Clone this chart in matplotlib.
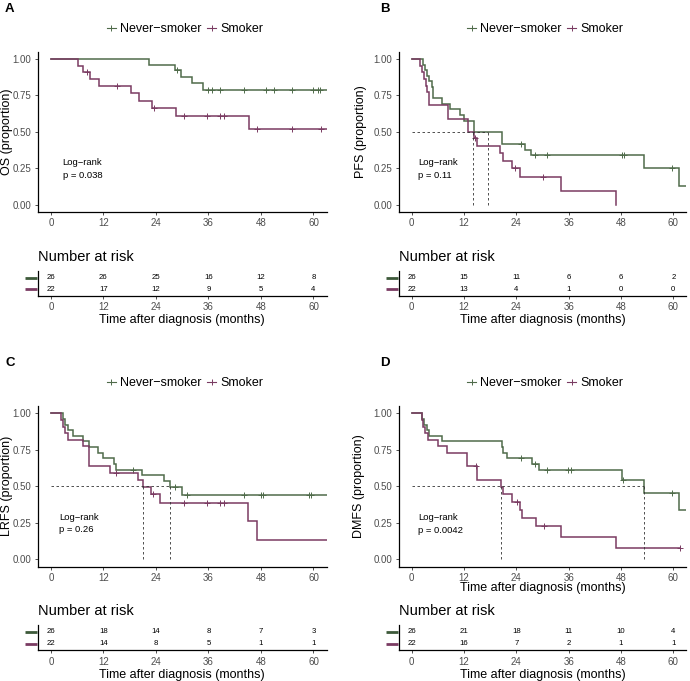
import matplotlib
matplotlib.use('Agg')
import matplotlib.pyplot as plt
from matplotlib.lines import Line2D
import matplotlib.transforms as mtrans

plt.rcParams['font.family'] = ['Liberation Sans', 'DejaVu Sans']

# ---------------- data ----------------
groups = ['Never\u2212smoker', 'Smoker']
colors = ['#4f6b4a', '#7a3b62']
bar_colors = ['#3d5a3a', '#7a3b62']
panel_letters = ['A', 'B', 'C', 'D']
ylabels = ['OS (proportion)', 'PFS (proportion)', 'LRFS (proportion)', 'DMFS (proportion)']
pvals = ['p = 0.038', 'p = 0.11', 'p = 0.26', 'p = 0.0042']
xticks = [0, 12, 24, 36, 48, 60]
yticks = [0.0, 0.25, 0.5, 0.75, 1.0]
ytick_labels = ['0.00', '0.25', '0.50', '0.75', '1.00']

# Panel A (OS)
a_never_t = [22.5, 28.3, 29.7, 32.2, 34.7]
a_never_s = [0.962, 0.923, 0.879, 0.835, 0.790]
a_never_c = [28.9, 36.0, 36.8, 38.7, 44.2, 49.2, 50.9, 55.2, 59.9, 61.1, 61.5]
a_never_end = 63
a_smok_t = [6.1, 7.4, 9.0, 11.1, 18.3, 20.2, 23.1, 28.5, 45.2]
a_smok_s = [0.955, 0.909, 0.861, 0.817, 0.769, 0.712, 0.663, 0.607, 0.520]
a_smok_c = [8.2, 15.2, 23.6, 30.3, 35.6, 38.7, 39.6, 47.2, 55.1, 61.8]
a_smok_end = 63
a_medians = []

# Panel B (PFS)
b_never_t = [2.7, 3.0, 3.4, 4.0, 4.6, 5.0, 7.0, 8.8, 11.0, 12.0, 14.4, 20.6, 26.0, 27.3, 53.3, 61.3]
b_never_s = [0.962, 0.923, 0.885, 0.846, 0.808, 0.731, 0.692, 0.654, 0.615, 0.577, 0.500, 0.420,
             0.378, 0.338, 0.254, 0.128]
b_never_c = [25.1, 28.3, 31.1, 48.2, 48.6, 59.6]
b_never_end = 63
b_smok_t = [1.9, 2.4, 2.8, 3.2, 3.5, 4.0, 8.4, 13.0, 14.4, 14.9, 20.3, 21.0, 22.9, 24.9, 34.2, 46.8]
b_smok_s = [0.955, 0.909, 0.864, 0.818, 0.773, 0.682, 0.591, 0.500, 0.455, 0.404, 0.354, 0.303,
            0.253, 0.190, 0.095, 0.0]
b_smok_c = [14.6, 23.6, 30.2]
b_smok_end = 46.8
b_medians = [14.1, 17.6]

# Panel C (LRFS)
c_never_t = [2.8, 3.2, 4.0, 5.1, 7.4, 8.8, 10.8, 12.0, 14.3, 14.9, 20.7, 25.8, 27.1, 29.9]
c_never_s = [0.962, 0.923, 0.885, 0.846, 0.808, 0.769, 0.731, 0.692, 0.654, 0.615, 0.575, 0.535,
             0.495, 0.440]
c_never_c = [18.8, 28.4, 31.0, 44.1, 48.0, 48.4, 58.9, 59.4]
c_never_end = 63
c_smok_t = [2.2, 2.7, 3.2, 3.8, 7.4, 8.8, 13.5, 20.0, 21.1, 22.9, 24.9, 45.1, 47.0]
c_smok_s = [0.955, 0.909, 0.864, 0.818, 0.773, 0.636, 0.591, 0.545, 0.495, 0.448, 0.388, 0.259,
            0.129]
c_smok_c = [14.8, 23.4, 30.3, 35.6, 38.7, 39.6]
c_smok_end = 63
c_medians = [21.1, 27.1]

# Panel D (DMFS)
d_never_t = [2.4, 2.9, 3.4, 4.0, 6.9, 20.6, 21.0, 21.8, 27.5, 29.2, 48.2, 53.3, 61.3]
d_never_s = [0.962, 0.923, 0.885, 0.846, 0.808, 0.770, 0.731, 0.692, 0.651, 0.611, 0.543, 0.452,
             0.340]
d_never_c = [25.1, 28.3, 31.1, 35.9, 36.5, 48.5, 59.6]
d_never_end = 63
d_smok_t = [2.3, 2.7, 3.1, 3.7, 6.1, 8.0, 12.6, 15.0, 20.5, 21.0, 22.9, 24.9, 25.4, 28.4, 34.2, 46.8]
d_smok_s = [0.955, 0.909, 0.864, 0.818, 0.773, 0.727, 0.636, 0.545, 0.495, 0.445, 0.395, 0.338,
            0.281, 0.225, 0.150, 0.075]
d_smok_c = [14.7, 24.2, 30.3, 61.5]
d_smok_end = 61.5
d_medians = [20.5, 53.3]

# Numbers at risk (never, smoker)
risk_a = [[26, 26, 25, 16, 12, 8], [22, 17, 12, 9, 5, 4]]
risk_b = [[26, 15, 11, 6, 6, 2], [22, 13, 4, 1, 0, 0]]
risk_c = [[26, 18, 14, 8, 7, 3], [22, 14, 8, 5, 1, 1]]
risk_d = [[26, 21, 18, 11, 10, 4], [22, 16, 7, 2, 1, 1]]

curves = [
    [(a_never_t, a_never_s, a_never_c, a_never_end), (a_smok_t, a_smok_s, a_smok_c, a_smok_end)],
    [(b_never_t, b_never_s, b_never_c, b_never_end), (b_smok_t, b_smok_s, b_smok_c, b_smok_end)],
    [(c_never_t, c_never_s, c_never_c, c_never_end), (c_smok_t, c_smok_s, c_smok_c, c_smok_end)],
    [(d_never_t, d_never_s, d_never_c, d_never_end), (d_smok_t, d_smok_s, d_smok_c, d_smok_end)],
]
medians = [a_medians, b_medians, c_medians, d_medians]
risks = [risk_a, risk_b, risk_c, risk_d]
logrank_pos = [(2.7, 0.288, 0.198), (1.4, 0.288, 0.200), (1.8, 0.288, 0.205), (1.4, 0.288, 0.200)]

# ---------------- layout (pixels) ----------------
W, H = 690, 681
fig = plt.figure(figsize=(W / 100, H / 100), dpi=100)

def rect(left, top, right, bottom):
    return [left / W, 1 - bottom / H, (right - left) / W, (bottom - top) / H]

col_x = [(37.8, 326.6), (398.6, 686.4)]
main_tb = [(51.7, 212.0), (406.0, 566.6)]
table_tb = [(270.7, 296.0), (625.0, 650.3)]
title_y = [256.7, 611.0]
letter_pos = [(5, 3), (380, 3), (6, 357), (380, 357)]
ylab_x = [7.0, 361.0, 7.0, 359.0]

TICK_GREY = '#4d4d4d'

def surv_at(t_list, s_list, c):
    v = 1.0
    for t, s in zip(t_list, s_list):
        if t <= c:
            v = s
    return v

for i in range(4):
    r, cidx = divmod(i, 2)
    l, rgt = col_x[cidx]
    top, bot = main_tb[r]
    ax = fig.add_axes(rect(l, top, rgt, bot))
    for g in range(2):
        t, s, cens, end = curves[i][g]
        xs = [0] + list(t) + [end]
        ys = [1.0] + list(s) + [s[-1]]
        ax.step(xs, ys, where='post', color=colors[g], lw=1.1, solid_joinstyle='miter')
        cy = [surv_at(t, s, c) for c in cens]
        ax.plot(cens, cy, linestyle='none', marker='+', color=colors[g], ms=4, mew=0.7)
    if medians[i]:
        ax.plot([0, max(medians[i])], [0.5, 0.5], ls=(0, (3, 3)), color='#333333', lw=0.6)
        for m in medians[i]:
            ax.plot([m, m], [0, 0.5], ls=(0, (3, 3)), color='#333333', lw=0.6)
    ax.set_xlim(-3, 63)
    ax.set_ylim(-0.05, 1.05)
    ax.set_xticks(xticks)
    ax.set_xticklabels([str(x) for x in xticks])
    ax.set_yticks(yticks)
    ax.set_yticklabels(ytick_labels)
    for sp in ['top', 'right']:
        ax.spines[sp].set_visible(False)
    for sp in ['left', 'bottom']:
        ax.spines[sp].set_linewidth(0.9)
    ax.tick_params(labelsize=7, labelcolor=TICK_GREY, length=2.5, width=0.6, color='#333333', pad=2)
    lx, ly1, ly2 = logrank_pos[i]
    ax.text(lx, ly1, 'Log\u2212rank', fontsize=6.8, va='center', ha='left')
    ax.text(lx, ly2, pvals[i], fontsize=6.8, va='center', ha='left')
    handles = [Line2D([0], [0], color=colors[g], marker='+', ms=4, mew=0.7, lw=0.8) for g in range(2)]
    ax.legend(handles, groups, loc='center', bbox_to_anchor=(0.51, 1.0 + 22.5 / (bot - top)),
              ncol=2, frameon=False, fontsize=9, handlelength=0.7, handletextpad=0.35,
              columnspacing=0.45, borderpad=0, borderaxespad=0)
    fig.text(ylab_x[i] / W, 1 - ((top + 7.3 + bot - 7.3) / 2) / H, ylabels[i], rotation=90,
             ha='center', va='center', fontsize=9)
    lxp, lyp = letter_pos[i]
    fig.text(lxp / W, 1 - lyp / H, panel_letters[i], ha='left', va='top', fontsize=9.5,
             fontweight='bold')
    if i == 3:
        fig.text((l + rgt) / 2 / W, 1 - 588.5 / H, 'Time after diagnosis (months)',
                 ha='center', va='center', fontsize=9)

    # risk table
    ttop, tbot = table_tb[r]
    tax = fig.add_axes(rect(l, ttop, rgt, tbot))
    tax.set_xlim(-3, 63)
    tax.set_ylim(0.42, 2.6)
    for g in range(2):
        yrow = 2 - g
        for x, n in zip(xticks, risks[i][g]):
            tax.text(x, yrow, str(n), ha='center', va='center', fontsize=5.6)
        trans = mtrans.blended_transform_factory(tax.transAxes, tax.transData)
        tax.plot([-0.043, -0.003], [yrow, yrow], transform=trans, color=bar_colors[g], lw=2,
                 clip_on=False, solid_capstyle='butt')
    tax.set_xticks(xticks)
    tax.set_xticklabels([str(x) for x in xticks])
    tax.set_yticks([])
    for sp in ['top', 'right']:
        tax.spines[sp].set_visible(False)
    for sp in ['left', 'bottom']:
        tax.spines[sp].set_linewidth(0.9)
    tax.tick_params(labelsize=7, labelcolor=TICK_GREY, length=2.5, width=0.6, color='#333333', pad=2)
    tax.set_xlabel('Time after diagnosis (months)', fontsize=9, labelpad=1.5)
    fig.text(l / W, 1 - title_y[r] / H, 'Number at risk', ha='left', va='center', fontsize=10.5)

fig.savefig('out.png', dpi=100)
